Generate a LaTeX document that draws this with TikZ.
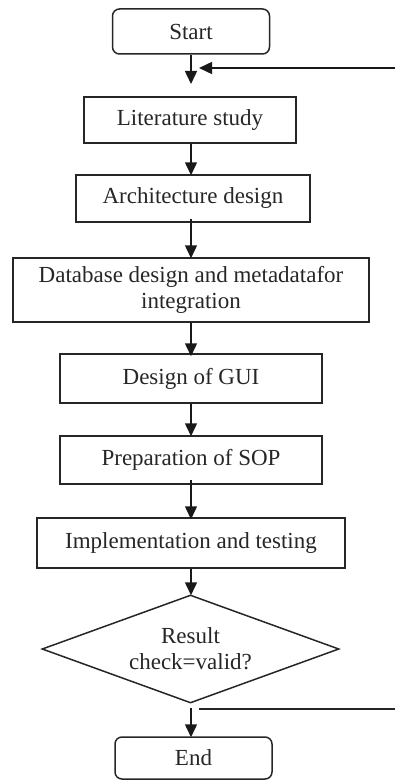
\documentclass[tikz,border=0pt]{standalone}
\usepackage{fontspec}
\setmainfont{Liberation Serif}
\usetikzlibrary{shapes.geometric,arrows.meta}
\begin{document}
\begin{tikzpicture}[x=1pt,y=-1pt,
  every node/.style={font=\fontsize{23}{26}\selectfont, align=center, inner sep=0pt, text=black!85},
  box/.style={draw=black!85, line width=1.5pt, rectangle},
  term/.style={draw=black!85, line width=1.5pt, rectangle, rounded corners=7pt},
  dec/.style={draw=black!85, line width=1.5pt, diamond, aspect=2.75},
  arr/.style={draw=black!90, line width=1.5pt, -{Triangle[length=13pt,width=12pt]}},
  ln/.style={draw=black!85, line width=1.5pt}]
\useasboundingbox (0,0) rectangle (394,781);
\node[term, minimum width=157pt, minimum height=45pt] (start) at (191,31.5) {Start};
\node[box, minimum width=212pt, minimum height=46pt] (lit) at (190,120) {Literature study};
\node[box, minimum width=234pt, minimum height=47pt] (arch) at (193,198.5) {Architecture design};
\node[box, minimum width=356pt, minimum height=64pt] (db) at (191,290) {Database design and metadatafor\\integration};
\node[box, minimum width=262pt, minimum height=49pt] (gui) at (191,378.5) {Design of GUI};
\node[box, minimum width=262pt, minimum height=48pt] (sop) at (191,460) {Preparation of SOP};
\node[box, minimum width=308pt, minimum height=50pt] (impl) at (191,543) {Implementation and testing};
\node[dec, minimum width=297pt, minimum height=108pt] (chk) at (190.5,649) {Result\\check=valid?};
\node[term, minimum width=157pt, minimum height=42pt] (end) at (193.5,758) {End};
\coordinate (j1) at (191,84);
\coordinate (fbR) at (395,68);
\coordinate (fbL) at (199,68);
\coordinate (d1) at (191,708);
\coordinate (f2L) at (199,709);
\coordinate (f2R) at (395,709);
\draw[arr] (start.south -| j1) -- (j1);
\draw[arr] (fbR) -- (fbL);
\draw[arr] (lit.south -| j1) -- ([yshift=-1pt]arch.north -| j1);
\draw[arr] ([yshift=4pt]arch.south -| j1) -- ([yshift=-1pt]db.north -| j1);
\draw[arr] (db.south -| j1) -- ([yshift=-3pt]gui.north -| j1);
\draw[arr] (gui.south -| j1) -- ([yshift=-1pt]sop.north -| j1);
\draw[arr] ([yshift=5pt]sop.south -| j1) -- ([yshift=-2pt]impl.north -| j1);
\draw[arr] (impl.south -| j1) -- ([yshift=-1pt]chk.north -| j1);
\draw[arr] (d1) -- ([yshift=-1pt]end.north -| j1);
\draw[ln] (f2L) -- (f2R);
\end{tikzpicture}
\end{document}
